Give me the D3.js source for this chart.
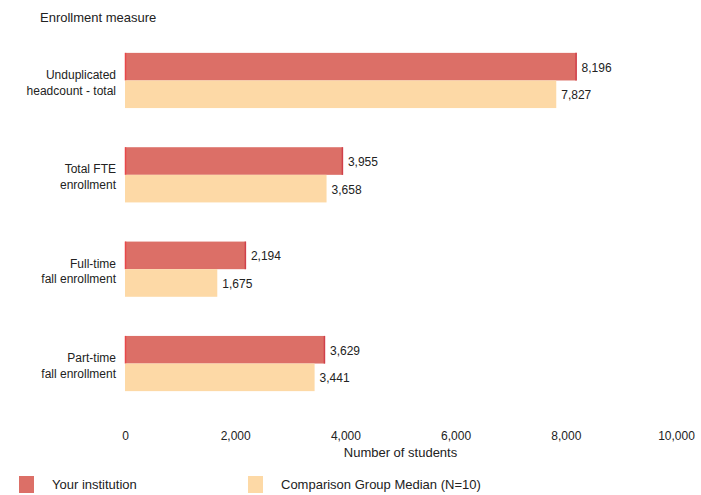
<!DOCTYPE html>
<html><head><meta charset="utf-8">
<script src="https://cdn.jsdelivr.net/npm/d3@7"></script>
<style>
body{margin:0;background:#fff;}
text{font-family:"Liberation Sans",Arial,sans-serif;fill:#222;}
</style></head>
<body><svg id="c" width="701" height="495"></svg>
<script>
const categories = [["Unduplicated","headcount - total"],["Total FTE","enrollment"],["Full-time","fall enrollment"],["Part-time","fall enrollment"]];
const institution = [8196, 3955, 2194, 3629];
const comparison = [7827, 3658, 1675, 3441];
const series = ["Your institution", "Comparison Group Median (N=10)"];
const tickValues = [0, 2000, 4000, 6000, 8000, 10000];
const colors = ["#dc6f67", "#fdd9a6"];

const svg = d3.select("#c");
const x = d3.scaleLinear().domain([0, 10000]).range([125, 676]);
const y = d3.scaleBand().domain(d3.range(categories.length)).range([34, 410]).paddingInner(0.415).paddingOuter(0.2);
const sub = d3.scaleBand().domain([0,1]).range([0, y.bandwidth()]);
const fmt = d3.format(",");

svg.append("text").attr("x", 40).attr("y", 22).attr("font-size", 13).text("Enrollment measure");

const g = svg.append("g").selectAll("g").data(categories).join("g")
  .attr("transform", (d,i) => `translate(0,${y(i)})`);

[institution, comparison].forEach((vals, s) => {
  g.append("rect")
    .attr("x", x(0))
    .attr("y", sub(s))
    .attr("width", (d,i) => x(vals[i]) - x(0))
    .attr("height", sub.bandwidth())
    .attr("fill", colors[s]);
  if (s === 0) {
    g.append("line")
      .attr("x1", (d,i) => x(vals[i]) - 0.5).attr("x2", (d,i) => x(vals[i]) - 0.5)
      .attr("y1", sub(s)).attr("y2", sub(s) + sub.bandwidth())
      .attr("stroke", "#d0404a").attr("stroke-width", 1.5);
    g.append("line")
      .attr("x1", x(0) + 0.5).attr("x2", x(0) + 0.5)
      .attr("y1", sub(s)).attr("y2", sub(s) + sub.bandwidth())
      .attr("stroke", "#e8484a").attr("stroke-width", 1.5);
  }
  g.append("text")
    .attr("x", (d,i) => x(vals[i]) + 5)
    .attr("y", sub(s) + sub.bandwidth()/2 + 5)
    .attr("font-size", 12)
    .text((d,i) => fmt(vals[i]));
});

g.append("text")
  .attr("text-anchor", "end").attr("font-size", 12)
  .attr("x", 116).attr("y", y.bandwidth()/2 + 1)
  .selectAll("tspan").data(d => d).join("tspan")
  .attr("x", 116).attr("dy", (d,i) => i === 0 ? "-0.2em" : "1.3em").text(d => d);

const ax = svg.append("g").attr("transform", "translate(0,437)")
  .call(d3.axisBottom(x).tickValues(tickValues).tickFormat(fmt).tickSize(0));
ax.select(".domain").remove();
ax.selectAll("text").attr("font-size", 12).attr("fill", "#222").attr("dy", 0)
  .style("font-family", '"Liberation Sans",Arial,sans-serif');

svg.append("text").attr("x", (x(4000)+x(6000))/2).attr("y", 457).attr("text-anchor", "middle")
  .attr("font-size", 13).text("Number of students");

const leg = svg.append("g").selectAll("g").data(series).join("g")
  .attr("transform", (d,i) => `translate(${i === 0 ? 19 : 248},476)`);
leg.append("rect").attr("width", 15).attr("height", 17).attr("fill", (d,i) => colors[i]);
leg.append("text").attr("x", 33).attr("y", 13).attr("font-size", 13).text(d => d);
</script></body></html>
